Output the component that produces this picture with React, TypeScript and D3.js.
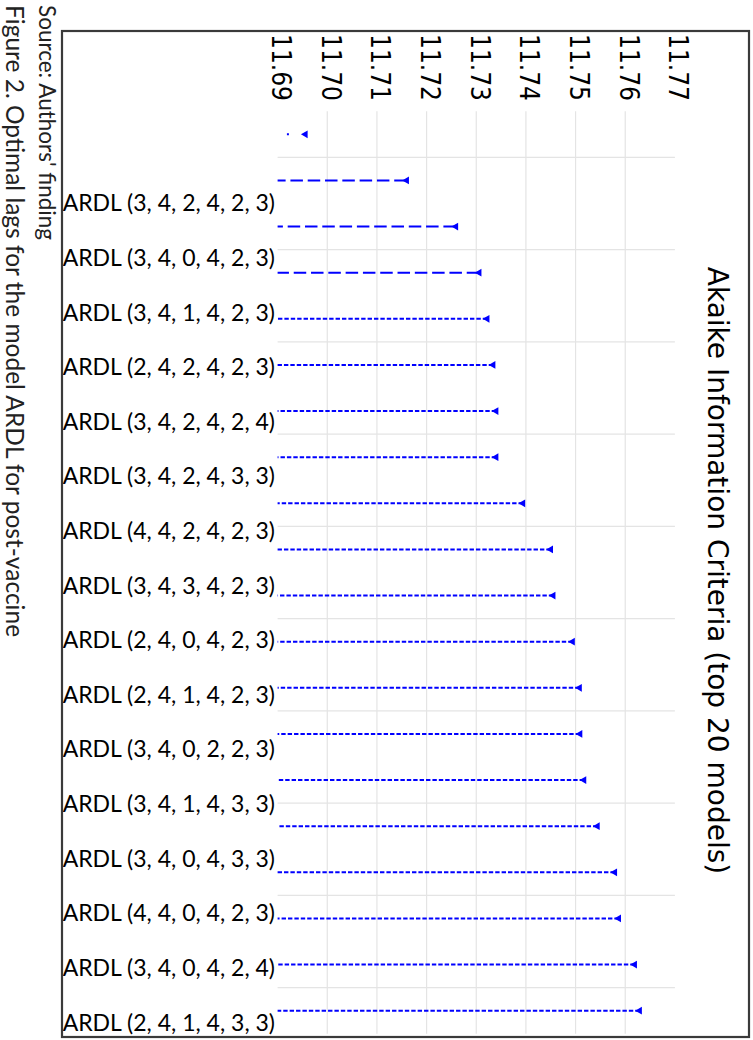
import React from "react";
import * as d3 from "d3";

// AIC of the 20 best ARDL models, in rank order
const aicValues = [
  11.6956, 11.716, 11.7259, 11.7306, 11.7322, 11.7334, 11.734, 11.734, 11.7394, 11.745,
  11.7455, 11.7494, 11.7508, 11.7509, 11.7517, 11.7544, 11.7579, 11.7587, 11.7619, 11.7629,
];

// category labels as they appear on the figure
const modelLabels = [
  "ARDL (3, 4, 2, 4, 2, 3)",
  "ARDL (3, 4, 0, 4, 2, 3)",
  "ARDL (3, 4, 1, 4, 2, 3)",
  "ARDL (2, 4, 2, 4, 2, 3)",
  "ARDL (3, 4, 2, 4, 2, 4)",
  "ARDL (3, 4, 2, 4, 3, 3)",
  "ARDL (4, 4, 2, 4, 2, 3)",
  "ARDL (3, 4, 3, 4, 2, 3)",
  "ARDL (2, 4, 0, 4, 2, 3)",
  "ARDL (2, 4, 1, 4, 2, 3)",
  "ARDL (3, 4, 0, 2, 2, 3)",
  "ARDL (3, 4, 1, 4, 3, 3)",
  "ARDL (3, 4, 0, 4, 3, 3)",
  "ARDL (4, 4, 0, 4, 2, 3)",
  "ARDL (3, 4, 0, 4, 2, 4)",
  "ARDL (2, 4, 1, 4, 3, 3)",
];

const tickValues = [11.69, 11.7, 11.71, 11.72, 11.73, 11.74, 11.75, 11.76, 11.77];

const title = "Akaike Information Criteria (top 20 models)";
const sourceNote = "Source: Authors' finding";
const caption = "Figure 2. Optimal lags for the model ARDL for post-vaccine";

const blue = "#0000ff";
const grid = "#e4e4e4";

const dashFor = (i: number) => (i === 0 ? "2,14.5" : i < 4 ? "12.5,4.8" : "4.4,2");

export default function App() {
  const width = 753;
  const height = 1040;

  const x = d3.scaleLinear().domain([11.69, 11.77]).range([277.6, 674.9]);
  const rows = aicValues.map((_, i) => i);
  const y = d3.scaleBand<number>().domain(rows).range([111.2, 1033.8]);
  const labelY = d3
    .scalePoint<number>()
    .domain(modelLabels.map((_, i) => i))
    .range([203.3, 1022.5]);

  const tri = d3.symbol(d3.symbolTriangle, 26)();
  const [x0, x1] = x.range();
  const [y0, y1] = y.range();

  return (
    <svg
      width={width}
      height={height}
      style={{ position: "absolute", left: 0, top: 0, background: "#fff" }}
    >
      <rect x={0} y={0} width={width} height={height} fill="#fff" />

      {/* value grid (interior ticks only) */}
      {tickValues.slice(1, -1).map((t) => (
        <line key={t} x1={x(t)} x2={x(t)} y1={y0} y2={y1} stroke={grid} strokeWidth={1.2} />
      ))}
      {/* category grid every second row */}
      {rows
        .filter((i) => i % 2 === 1)
        .map((i) => (
          <line key={i} x1={x0} x2={x1} y1={y(i)} y2={y(i)} stroke={grid} strokeWidth={1.2} />
        ))}

      {/* lines + markers */}
      {aicValues.map((v, i) => {
        const cy = (y(i) as number) + y.bandwidth() / 2;
        return (
          <g key={i}>
            <line
              x1={x(v)}
              x2={x0}
              y1={cy}
              y2={cy}
              stroke={blue}
              strokeWidth={2}
              strokeDasharray={dashFor(i)}
            />
            <path d={tri as string} fill={blue} transform={`translate(${x(v)},${cy}) rotate(-90)`} />
          </g>
        );
      })}

      {/* tick labels, rotated */}
      {tickValues.map((t) => (
        <text
          key={t}
          transform={`translate(${x(t) - 5.6},34) rotate(90)`}
          fontFamily="'DejaVu Sans Condensed', 'DejaVu Sans', sans-serif"
          fontStretch="condensed"
          fontSize={26}
          fill="#000"
        >
          {t.toFixed(2)}
        </text>
      ))}

      {/* model labels */}
      {modelLabels.map((m, i) => (
        <text
          key={m}
          x={275}
          y={labelY(i) as number}
          dy="0.35em"
          textAnchor="end"
          fontFamily="Lato, sans-serif"
          fontSize={23}
          fill="#000"
        >
          {m}
        </text>
      ))}

      {/* title */}
      <text
        transform={`translate(708,${(y0 + y1) / 2 - 2}) rotate(90)`}
        textAnchor="middle"
        fontFamily="'DejaVu Sans', sans-serif"
        fontSize={28}
        fill="#000"
      >
        {title}
      </text>

      {/* frame */}
      <rect x={62} y={31} width={687} height={1006} fill="none" stroke="#3a3a3a" strokeWidth={2.2} />

      {/* notes below the figure (page rotated) */}
      <text
        transform="translate(39,5) rotate(90)"
        fontFamily="Lato, sans-serif"
        fontSize={22.5}
        fill="#222"
      >
        {sourceNote}
      </text>
      <text
        transform="translate(6,5) rotate(90)"
        fontFamily="Lato, sans-serif"
        fontSize={24.5}
        fill="#222"
      >
        {caption}
      </text>
    </svg>
  );
}
